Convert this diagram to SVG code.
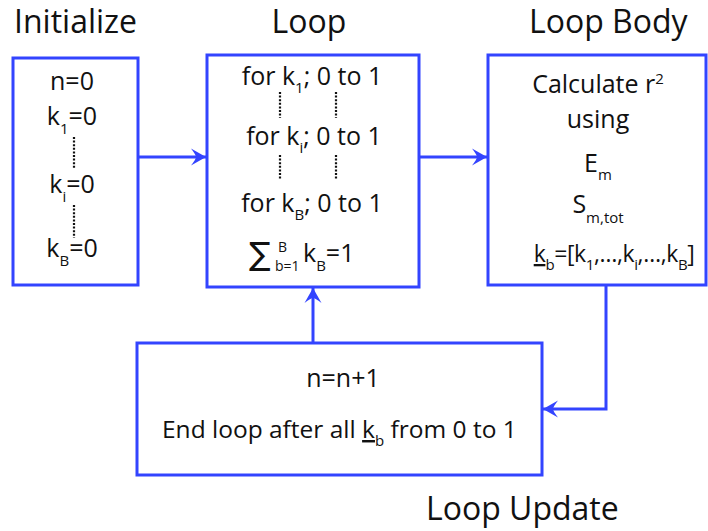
<svg xmlns="http://www.w3.org/2000/svg" width="708" height="531" viewBox="0 0 708 531">
  <style>
    .box { fill: #ffffff; stroke: #3344ff; stroke-width: 3; }
    .edge { fill: none; stroke: #3344ff; stroke-width: 3; }
    .dots { fill: none; stroke: #111111; stroke-width: 2.2; stroke-dasharray: 2 1.6; }
    .title { font-family: "Open Sans", "Liberation Sans", sans-serif; font-size: 32px; fill: #111111; }
    .t { font-family: "Open Sans", "Liberation Sans", sans-serif; font-size: 25px; fill: #111111; }
    .t.sm { font-size: 14px; }
    .t.narrow { font-size: 23px; letter-spacing: -0.4px; }
    .t.wide { font-size: 24.5px; }
    .mid { text-anchor: middle; }
    .sub { font-size: 15px; }
    .u { text-decoration: underline; }
  </style>
  <defs>
    <marker id="arrow" viewBox="-16 -9 17 18" markerWidth="17" markerHeight="18" refX="0" refY="0" orient="auto" markerUnits="userSpaceOnUse">
      <path d="M0,0 L-15,-8.5 Q-10,-2 -10,0 Q-10,2 -15,8.5 Z" fill="#3344ff"/>
    </marker>
  </defs>

  <!-- section titles -->
  <text class="title" x="14" y="33">Initialize</text>
  <text class="title mid" x="309" y="33">Loop</text>
  <text class="title" x="529" y="33">Loop Body</text>
  <text class="title" x="426" y="520">Loop Update</text>

  <!-- Initialize -->
  <g id="initialize">
    <rect class="box" x="13" y="58" width="125" height="227"/>
    <text class="t mid" x="72" y="90">n=0</text>
    <text class="t mid" x="72" y="125">k<tspan class="sub" dy="9">1</tspan><tspan dy="-9">=0</tspan></text>
    <line class="dots" x1="74" y1="137" x2="74" y2="168"/>
    <text class="t mid" x="72" y="193">k<tspan class="sub" dy="9">i</tspan><tspan dy="-9">=0</tspan></text>
    <line class="dots" x1="74" y1="205" x2="74" y2="238"/>
    <text class="t mid" x="72" y="257">k<tspan class="sub" dy="9">B</tspan><tspan dy="-9">=0</tspan></text>
  </g>

  <!-- Loop -->
  <g id="loop">
    <rect class="box" x="207" y="55" width="212" height="232"/>
    <text class="t mid" x="312" y="85">for k<tspan class="sub" dy="8">1</tspan><tspan dy="-8">; 0 to 1</tspan></text>
    <line class="dots" x1="280" y1="92" x2="280" y2="118"/>
    <line class="dots" x1="336" y1="92" x2="336" y2="118"/>
    <text class="t mid" x="314" y="145">for k<tspan class="sub" dy="8">i</tspan><tspan dy="-8">; 0 to 1</tspan></text>
    <line class="dots" x1="280" y1="155" x2="280" y2="180"/>
    <line class="dots" x1="336" y1="155" x2="336" y2="180"/>
    <text class="t mid" x="312" y="212">for k<tspan class="sub" dy="8">B</tspan><tspan dy="-8">; 0 to 1</tspan></text>
    <!-- summation over b -->
    <text x="249" y="265" font-family="DejaVu Sans, sans-serif" font-size="32" fill="#111111">∑</text>
    <text class="t sm" x="278" y="252">B</text>
    <text class="t sm" x="275" y="271">b=1</text>
    <text class="t" x="303" y="262">k<tspan class="sub" dy="9">B</tspan><tspan dy="-9">=1</tspan></text>
  </g>

  <!-- Loop Body -->
  <g id="loop-body">
    <rect class="box" x="488" y="55" width="218" height="230"/>
    <text class="t mid" x="598" y="93">Calculate r<tspan class="sub" dy="-9">2</tspan></text>
    <text class="t mid" x="598" y="128">using</text>
    <text class="t mid" x="598" y="172">E<tspan class="sub" dy="8">m</tspan></text>
    <text class="t mid" x="598" y="213">S<tspan class="sub" dy="10">m,tot</tspan></text>
    <text class="t narrow mid" x="614" y="262"><tspan class="u">k</tspan><tspan class="sub" dy="8">b</tspan><tspan dy="-8">=[k</tspan><tspan class="sub" dy="8">1</tspan><tspan dy="-8">,…,k</tspan><tspan class="sub" dy="8">i</tspan><tspan dy="-8">,…,k</tspan><tspan class="sub" dy="8">B</tspan><tspan dy="-8">]</tspan></text>
  </g>

  <!-- Loop Update -->
  <g id="loop-update">
    <rect class="box" x="137" y="343" width="405" height="132"/>
    <text class="t mid" x="343" y="387">n=n+1</text>
    <text class="t wide" x="162" y="438">End loop after all <tspan class="u">k</tspan><tspan class="sub" dy="8">b</tspan><tspan dy="-8"> from 0 to 1</tspan></text>
  </g>

  <!-- connectors -->
  <g id="connectors">
    <path class="edge" d="M138,157 H206" marker-end="url(#arrow)"/>
    <path class="edge" d="M419,157 H487" marker-end="url(#arrow)"/>
    <path class="edge" d="M606,285 V409 H543" marker-end="url(#arrow)"/>
    <path class="edge" d="M313,343 V288" marker-end="url(#arrow)"/>
  </g>
</svg>
